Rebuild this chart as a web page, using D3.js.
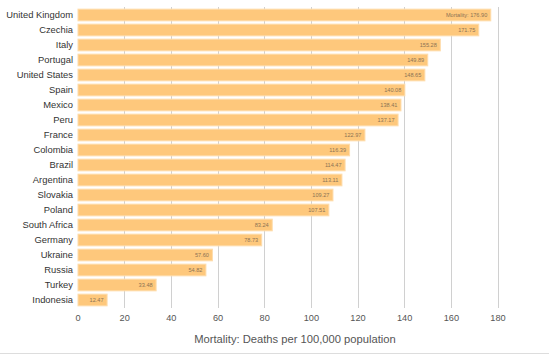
<!DOCTYPE html>
<html><head><meta charset="utf-8">
<script src="https://cdn.jsdelivr.net/npm/d3@7"></script>
<style>body{margin:0;background:#fff}svg{display:block}</style>
</head><body><svg id="c" width="549" height="356"></svg>
<script>
const countries = ["United Kingdom","Czechia","Italy","Portugal","United States","Spain","Mexico","Peru","France","Colombia","Brazil","Argentina","Slovakia","Poland","South Africa","Germany","Ukraine","Russia","Turkey","Indonesia"];
const mortality = [176.90,171.75,155.28,149.89,148.65,140.08,138.41,137.17,122.97,116.39,114.47,113.11,109.27,107.51,83.24,78.73,57.60,54.82,33.48,12.47];
const xTicks = [0,20,40,60,80,100,120,140,160,180];
const xTitle = "Mortality: Deaths per 100,000 population";

const svg = d3.select("#c");
const font = "'Liberation Sans', Arial, sans-serif";
const x = d3.scaleLinear().domain([0,180]).range([78,498]);
const y = d3.scaleBand().domain(countries).range([7.5,307.5]).paddingInner(0.22).paddingOuter(0.11);

// gridlines
svg.append("g").selectAll("line").data(xTicks.filter(d=>d>0)).join("line")
  .attr("x1",d=>x(d)).attr("x2",d=>x(d)).attr("y1",7).attr("y2",308)
  .attr("stroke","#d0d0d0").attr("stroke-width",1).attr("shape-rendering","crispEdges");

// bars
svg.append("g").selectAll("rect").data(countries).join("rect")
  .attr("x",x(0)).attr("y",d=>y(d))
  .attr("width",(d,i)=>x(mortality[i])-x(0)).attr("height",y.bandwidth())
  .attr("fill","#fec87c").attr("stroke","#fedcab").attr("stroke-width",1);

// value labels
svg.append("g").selectAll("text").data(countries).join("text")
  .attr("x",(d,i)=>x(mortality[i])-3.5).attr("y",d=>y(d)+y.bandwidth()/2)
  .attr("dy","0.35em").attr("text-anchor","end")
  .attr("font-family",font).attr("font-size",5.6).attr("fill","#8c7354")
  .text((d,i)=> (i===0?"Mortality: ":"") + mortality[i].toFixed(2));

// category labels
svg.append("g").selectAll("text").data(countries).join("text")
  .attr("x",73).attr("y",d=>y(d)+y.bandwidth()/2).attr("dy","0.35em")
  .attr("text-anchor","end").attr("font-family",font).attr("font-size",9.4).attr("fill","#333")
  .text(d=>d);

// x tick labels
svg.append("g").selectAll("text").data(xTicks).join("text")
  .attr("x",d=>x(d)).attr("y",318).attr("dy","0.35em").attr("text-anchor","middle")
  .attr("font-family",font).attr("font-size",9.2).attr("fill","#555").text(d=>d);

svg.append("text").attr("x",295).attr("y",339).attr("dy","0.35em").attr("text-anchor","middle")
  .attr("font-family",font).attr("font-size",11.2).attr("fill","#555").text(xTitle);

svg.append("line").attr("x1",0).attr("x2",549).attr("y1",353.5).attr("y2",353.5)
  .attr("stroke","#ddd").attr("stroke-width",1);
</script></body></html>
